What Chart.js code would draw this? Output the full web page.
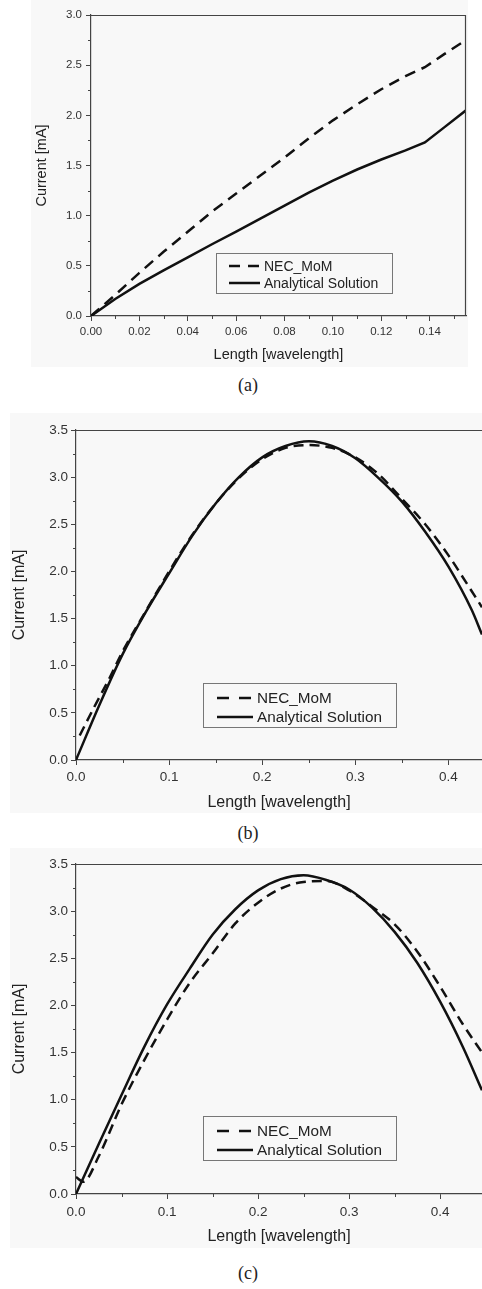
<!DOCTYPE html>
<html>
<head>
<meta charset="utf-8">
<script src="https://cdn.jsdelivr.net/npm/chart.js"></script>
<style>
  body { margin: 0; width: 482px; height: 1289px; overflow: hidden; background: #fff; font-family: Arial, "Liberation Sans", sans-serif; }
  canvas.panel { position: absolute; background: #f8f8f8; }
  .caption { position: absolute; transform: translate(-50%, -50%); font-family: "Times New Roman", "Liberation Serif", serif; font-size: 18px; color: #222; }
  .legend { position: absolute; border: 1px solid #777; box-sizing: border-box; }
  .legend .row { position: absolute; left: 0; height: 0; }
  .legend svg { position: absolute; overflow: visible; }
  .legend span { position: absolute; white-space: nowrap; transform: translateY(-50%); color: #222; }
</style>
</head>
<body>
<canvas id="chartA" class="panel" width="437" height="367" style="left:31px;top:0px"></canvas>
<canvas id="chartB" class="panel" width="472" height="400" style="left:10px;top:413px"></canvas>
<canvas id="chartC" class="panel" width="472" height="400" style="left:10px;top:848px"></canvas>
<div class="caption" style="left:248px;top:385px">(a)</div>
<div class="caption" style="left:248px;top:833px">(b)</div>
<div class="caption" style="left:248px;top:1273px">(c)</div>
<script>
const seriesNames = ['NEC_MoM', 'Analytical Solution'];
const xTitle = 'Length [wavelength]';
const yTitle = 'Current [mA]';

// (a)
const lenA = [0, 0.01, 0.02, 0.03, 0.04, 0.05, 0.06, 0.07, 0.08, 0.09, 0.10, 0.11, 0.12, 0.13, 0.138, 0.146, 0.155];
const necA = [0, 0.21, 0.43, 0.64, 0.84, 1.04, 1.22, 1.40, 1.58, 1.77, 1.95, 2.11, 2.26, 2.39, 2.48, 2.61, 2.75];
const anaA = [0, 0.17, 0.32, 0.455, 0.585, 0.715, 0.84, 0.97, 1.10, 1.23, 1.35, 1.46, 1.56, 1.65, 1.73, 1.88, 2.05];

// (b)
const lenNecB = [0.004, 0.02, 0.035, 0.05, 0.075, 0.1, 0.125, 0.15, 0.175, 0.2, 0.225, 0.25, 0.275, 0.3, 0.325, 0.35, 0.375, 0.4, 0.425, 0.436];
const necB = [0.26, 0.57, 0.85, 1.15, 1.58, 2.00, 2.39, 2.72, 2.99, 3.19, 3.31, 3.34, 3.31, 3.21, 3.03, 2.77, 2.50, 2.17, 1.79, 1.62];
const lenAnaB = [0, 0.025, 0.05, 0.075, 0.1, 0.125, 0.15, 0.175, 0.2, 0.225, 0.25, 0.275, 0.3, 0.325, 0.35, 0.375, 0.4, 0.425, 0.436];
const anaB = [0, 0.58, 1.12, 1.57, 1.98, 2.38, 2.72, 3.00, 3.21, 3.33, 3.38, 3.33, 3.20, 2.99, 2.74, 2.42, 2.05, 1.59, 1.33];

// (c)
const lenNecC = [0, 0.008, 0.025, 0.05, 0.075, 0.1, 0.125, 0.15, 0.175, 0.2, 0.225, 0.25, 0.275, 0.3, 0.325, 0.35, 0.375, 0.4, 0.425, 0.446];
const necC = [0.18, 0.13, 0.40, 0.95, 1.42, 1.85, 2.24, 2.55, 2.87, 3.09, 3.24, 3.31, 3.32, 3.22, 3.05, 2.86, 2.57, 2.20, 1.80, 1.50];
const lenAnaC = [0, 0.025, 0.05, 0.075, 0.1, 0.125, 0.15, 0.175, 0.2, 0.225, 0.25, 0.275, 0.3, 0.325, 0.35, 0.375, 0.4, 0.425, 0.446];
const anaC = [0, 0.53, 1.05, 1.56, 2.01, 2.39, 2.75, 3.02, 3.22, 3.34, 3.38, 3.33, 3.23, 3.04, 2.78, 2.45, 2.04, 1.56, 1.10];

const pairs = (xs, ys) => xs.map((x, i) => ({ x: x, y: ys[i] }));

// top/right frame + minor ticks
const framePlugin = {
  id: 'frame',
  afterDraw(chart, args, opts) {
    const { ctx, chartArea: a, scales: { x, y } } = chart;
    ctx.save();
    ctx.strokeStyle = '#444';
    ctx.lineWidth = 1.2;
    ctx.beginPath();
    ctx.moveTo(a.left, a.top + 0.5);
    ctx.lineTo(a.right, a.top + 0.5);
    if (opts.right) {
      ctx.moveTo(a.right - 0.5, a.top);
      ctx.lineTo(a.right - 0.5, a.bottom);
    }
    ctx.stroke();
    ctx.lineWidth = 1;
    ctx.beginPath();
    for (let k = 1; k * opts.minorX < x.max; k += 2) {
      const px = Math.round(x.getPixelForValue(k * opts.minorX)) + 0.5;
      ctx.moveTo(px, a.bottom);
      ctx.lineTo(px, a.bottom + 3);
    }
    for (let k = 1; k * opts.minorY < y.max; k += 2) {
      const py = Math.round(y.getPixelForValue(k * opts.minorY)) + 0.5;
      ctx.moveTo(a.left, py);
      ctx.lineTo(a.left - 3, py);
    }
    ctx.stroke();
    ctx.restore();
  }
};

function makeChart(id, cfg) {
  const font = 'Arial, "Liberation Sans", sans-serif';
  return new Chart(document.getElementById(id), {
    type: 'line',
    data: {
      datasets: [{
        label: seriesNames[0],
        data: cfg.nec,
        borderColor: '#111',
        borderWidth: 2.5,
        borderDash: cfg.dash,
        pointRadius: 0,
        cubicInterpolationMode: cfg.smooth ? 'monotone' : 'default',
        tension: 0
      }, {
        label: seriesNames[1],
        data: cfg.ana,
        borderColor: '#111',
        borderWidth: 2.5,
        pointRadius: 0,
        cubicInterpolationMode: cfg.smooth ? 'monotone' : 'default',
        tension: 0
      }]
    },
    plugins: [framePlugin],
    options: {
      responsive: false,
      animation: false,
      devicePixelRatio: 1,
      events: [],
      layout: { padding: { top: cfg.top, right: cfg.right, left: 0, bottom: 0 } },
      plugins: {
        legend: { display: false },
        tooltip: { enabled: false },
        frame: { right: cfg.frameRight, minorX: cfg.xStep / 2, minorY: 0.25 }
      },
      scales: {
        x: {
          type: 'linear',
          min: 0,
          max: cfg.xMax,
          afterFit: s => { s.height = cfg.xH; },
          border: { display: true, color: '#444', width: 1.2 },
          grid: { drawOnChartArea: false, drawTicks: true, tickLength: 5, color: '#444' },
          ticks: {
            stepSize: cfg.xStep, includeBounds: false, autoSkip: false, maxRotation: 0,
            padding: cfg.xPad, color: '#333', font: { family: font, size: cfg.tickSize },
            callback: v => v.toFixed(cfg.xDec)
          },
          title: { display: true, text: xTitle, color: '#222', padding: { top: 0, bottom: cfg.xTitlePad }, font: { family: font, size: cfg.titleSize } }
        },
        y: {
          min: 0,
          max: cfg.yMax,
          afterFit: s => { s.width = cfg.yW; },
          border: { display: true, color: '#444', width: 1.2 },
          grid: { drawOnChartArea: false, drawTicks: true, tickLength: 5, color: '#444' },
          ticks: {
            stepSize: 0.5, padding: cfg.yPad, color: '#333', font: { family: font, size: cfg.tickSize },
            callback: v => v.toFixed(1)
          },
          title: { display: true, text: yTitle, color: '#222', padding: { top: cfg.yTitlePad, bottom: 0 }, font: { family: font, size: cfg.titleSize } }
        }
      }
    }
  });
}

makeChart('chartA', {
  nec: pairs(lenA, necA), ana: pairs(lenA, anaA), dash: [11, 7], smooth: false,
  top: 15, right: 2, xH: 51, yW: 60, xMax: 0.155, yMax: 3.0, xStep: 0.02, xDec: 2,
  tickSize: 11.5, titleSize: 14.5, xPad: 4, yPad: 4, xTitlePad: 3, yTitlePad: 2, frameRight: true
});
makeChart('chartB', {
  nec: pairs(lenNecB, necB), ana: pairs(lenAnaB, anaB), dash: [10, 6], smooth: true,
  top: 17, right: 0, xH: 53, yW: 66, xMax: 0.436, yMax: 3.5, xStep: 0.1, xDec: 1,
  tickSize: 13.5, titleSize: 16, xPad: 4, yPad: 3, xTitlePad: 1, yTitlePad: 0, frameRight: false
});
makeChart('chartC', {
  nec: pairs(lenNecC, necC), ana: pairs(lenAnaC, anaC), dash: [10, 6], smooth: true,
  top: 16, right: 0, xH: 54, yW: 66, xMax: 0.446, yMax: 3.5, xStep: 0.1, xDec: 1,
  tickSize: 13.5, titleSize: 16, xPad: 5, yPad: 3, xTitlePad: 2, yTitlePad: 0, frameRight: false
});

// legends drawn as html boxes
function makeLegend(box) {
  const el = document.createElement('div');
  el.className = 'legend';
  el.style.cssText = `left:${box.left}px;top:${box.top}px;width:${box.w}px;height:${box.h}px`;
  seriesNames.forEach((name, i) => {
    const row = document.createElement('div');
    row.className = 'row';
    row.style.top = box.rows[i] + 'px';
    const dash = i === 0 ? `stroke-dasharray="${box.dash}"` : '';
    row.innerHTML =
      `<svg width="${box.x2 - box.x1}" height="4" style="left:${box.x1}px;top:-2px">` +
      `<line x1="0" y1="2" x2="${box.x2 - box.x1}" y2="2" stroke="#111" stroke-width="2.5" ${dash}/></svg>` +
      `<span style="left:${box.text}px;font-size:${box.size}px">${name}</span>`;
    el.appendChild(row);
  });
  document.body.appendChild(el);
}
makeLegend({ left: 216, top: 253, w: 177, h: 41, rows: [12, 28.5], x1: 12, x2: 43, text: 47, size: 14, dash: '11 8' });
makeLegend({ left: 203, top: 683, w: 194, h: 45, rows: [13.5, 32.5], x1: 13, x2: 49, text: 53, size: 15.3, dash: '12 10' });
makeLegend({ left: 203, top: 1116, w: 194, h: 45, rows: [13.5, 33], x1: 13, x2: 49, text: 53, size: 15.3, dash: '12 10' });
</script>
</body>
</html>
